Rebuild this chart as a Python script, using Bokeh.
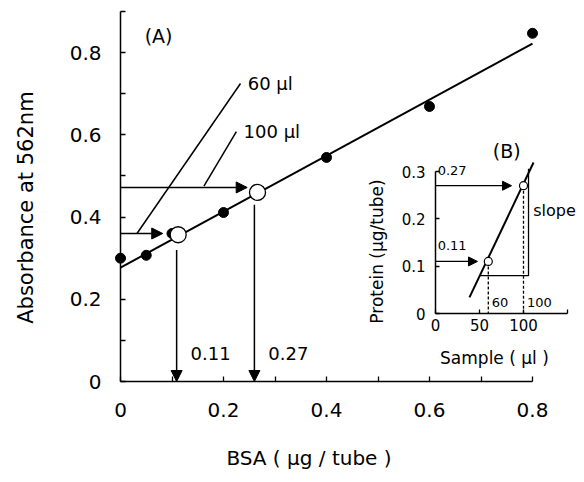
import math
from bokeh.plotting import figure
from bokeh.models import (Range1d, LinearAxis, FixedTicker, Arrow, NormalHead,
                          ColumnDataSource, Label)
from bokeh.core.properties import value
from bokeh.embed import file_html
from bokeh.resources import INLINE

FONT = "DejaVu Sans"

# ---------------- data : panel (A) standard curve ----------------
bsa_ug = [0.0, 0.05, 0.1, 0.2, 0.4, 0.6, 0.8]
absorbance = [0.300, 0.307, 0.360, 0.411, 0.545, 0.669, 0.847]
fit_bsa = [0.0, 0.8]
fit_abs = [0.277, 0.822]

volume_labels = ["60 µl", "100 µl"]
sample_abs = [0.360, 0.472]          # measured absorbance (horizontal arrows)
arrow_tip_bsa = [0.082, 0.246]
read_bsa = [0.112, 0.266]            # open circles on the standard line
read_abs = [0.357, 0.460]
drop_bsa = [0.109, 0.260]            # vertical arrows
drop_top = [0.32, 0.43]
protein_labels = ["0.11", "0.27"]
leader_x0 = [0.032, 0.162]
leader_y0 = [0.360, 0.475]
leader_x1 = [0.233, 0.225]
leader_y1 = [0.725, 0.608]

bsa_ticks = [0.0, 0.2, 0.4, 0.6, 0.8]
bsa_minor = [0.1, 0.3, 0.5, 0.7]
abs_ticks = [0.0, 0.2, 0.4, 0.6, 0.8]
abs_minor = [0.1, 0.3, 0.5, 0.7, 0.9]

# ---------------- data : panel (B) inset ----------------
sample_ul = [60, 100]
sample_protein = [0.11, 0.27]
inset_arrow_tip = [47.7, 86.4]
inset_fit_ul = [38.6, 111.4]
inset_fit_protein = [0.034, 0.319]
slope_ul = [51.0, 105.7, 105.7]
slope_protein = [0.080, 0.080, 0.306]
inset_x_ticks = [0, 50, 100]
inset_x_minor = [150]
inset_y_ticks = [0.0, 0.1, 0.2, 0.3]

# ---------------- layout (pixels inside the figure) ----------------
W, H = 576, 474
A_X0_PX, A_PX_PER_X = 120, 515.0       # position of x = 0 and px per unit
A_Y0_PX, A_PX_PER_Y = 381, 411.1       # position of y = 0 (from top) and px per unit
B_X0_PX, B_PX_PER_X = 435, 0.88
B_Y0_PX, B_PX_PER_Y = 313, 473.3

ax_start = -A_X0_PX / A_PX_PER_X
ay_end = A_Y0_PX / A_PX_PER_Y
bx_start = -B_X0_PX / B_PX_PER_X
by_end = B_Y0_PX / B_PX_PER_Y

p = figure(width=W, height=H, title=None, output_backend="svg", toolbar_location=None,
           x_range=Range1d(ax_start, ax_start + W / A_PX_PER_X),
           y_range=Range1d(ay_end - H / A_PX_PER_Y, ay_end),
           min_border_left=0, min_border_right=0, min_border_top=0, min_border_bottom=0)
p.extra_x_ranges = {"bx": Range1d(bx_start, bx_start + W / B_PX_PER_X)}
p.extra_y_ranges = {"by": Range1d(by_end - H / B_PX_PER_Y, by_end)}
p.grid.visible = False
p.outline_line_color = None
p.background_fill_color = "white"
p.border_fill_color = "white"

def style_axis(ax, lab_size, tick_len):
    ax.axis_line_width = 1.5
    ax.axis_line_color = "black"
    ax.major_tick_in = tick_len
    ax.major_tick_out = 0
    ax.minor_tick_in = tick_len
    ax.minor_tick_out = 0
    ax.major_tick_line_width = 1.3
    ax.minor_tick_line_width = 1.3
    ax.major_label_text_font = FONT
    ax.major_label_text_font_size = lab_size
    ax.major_label_text_color = "black"

xa = p.xaxis[0]
style_axis(xa, "20px", 5)
xa.fixed_location = 0
xa.bounds = (0, 0.8)
xa.ticker = FixedTicker(ticks=bsa_ticks, minor_ticks=bsa_minor)
xa.major_label_overrides = {0: "0"}
xa.major_label_standoff = 21

ya = p.yaxis[0]
style_axis(ya, "20px", 5)
ya.fixed_location = 0
ya.bounds = (0, 0.9)
ya.ticker = FixedTicker(ticks=abs_ticks, minor_ticks=abs_minor)
ya.major_label_overrides = {0: "0"}
ya.major_label_standoff = 19

# inset axes
iy = LinearAxis(x_range_name="bx", y_range_name="by", fixed_location=0, bounds=(0, 0.3),
                ticker=FixedTicker(ticks=inset_y_ticks, minor_ticks=[]))
style_axis(iy, "15px", 4)
iy.major_label_standoff = 10
iy.major_label_overrides = {0: "0"}
p.add_layout(iy, "left")
ix = LinearAxis(x_range_name="bx", y_range_name="by", fixed_location=0, bounds=(0, 150),
                ticker=FixedTicker(ticks=inset_x_ticks, minor_ticks=inset_x_minor))
style_axis(ix, "15px", 4)
ix.major_label_standoff = 5
p.add_layout(ix, "below")

# axis titles
p.add_layout(Label(x=-0.184, y=0.423, text="Absorbance at 562nm", angle=math.pi / 2,
                   text_font=FONT, text_font_size="21px", text_baseline="middle",
                   text_align="center", text_color="black"))
p.add_layout(Label(x=0.366, y=-0.185, text="BSA ( µg / tube )",
                   text_font=FONT, text_font_size="20px", text_baseline="middle",
                   text_align="center", text_color="black"))

# ---------------- panel (A) marks ----------------
p.line(fit_bsa, fit_abs, line_color="black", line_width=2)
p.scatter(bsa_ug, absorbance, marker="circle", size=10, fill_color="black", line_color="black")
p.segment(x0=leader_x0, y0=leader_y0, x1=leader_x1, y1=leader_y1, line_color="black", line_width=1.5)
p.scatter(read_bsa, read_abs, marker="circle", size=16, fill_color="white",
          line_color="black", line_width=1.3)

head_a = dict(size=11, fill_color="black", line_color="black", line_width=1)
src_h = ColumnDataSource(dict(x0=[0.0] * len(sample_abs), x1=arrow_tip_bsa, y=sample_abs))
p.add_layout(Arrow(end=NormalHead(**head_a), x_start="x0", y_start="y", x_end="x1", y_end="y",
                   source=src_h, line_width=1.5, line_color="black"))
src_v = ColumnDataSource(dict(x=drop_bsa, y0=drop_top, y1=[0.0] * len(drop_bsa)))
p.add_layout(Arrow(end=NormalHead(**head_a), x_start="x", y_start="y0", x_end="x", y_end="y1",
                   source=src_v, line_width=1.5, line_color="black"))

p.text(x=[x + 0.014 for x in leader_x1], y=leader_y1, text=volume_labels,
       text_font=value(FONT), text_font_size="18px", text_baseline="middle", text_align="left",
       text_color="black")
p.text(x=[x + 0.027 for x in drop_bsa], y=[0.068, 0.068], text=protein_labels,
       text_font=value(FONT), text_font_size="18px", text_baseline="middle", text_align="left",
       text_color="black")
p.add_layout(Label(x=0.047, y=0.84, text="(A)", text_font=FONT, text_font_size="19px",
                   text_baseline="middle", text_align="left", text_color="black"))

# ---------------- panel (B) marks ----------------
p.line(inset_fit_ul, inset_fit_protein, line_color="black", line_width=2,
       x_range_name="bx", y_range_name="by")
p.line(slope_ul, slope_protein, line_color="black", line_width=1.3,
       x_range_name="bx", y_range_name="by")
p.segment(x0=sample_ul, y0=sample_protein, x1=sample_ul, y1=[0, 0], line_color="black",
          line_width=1.3, line_dash="3 2", x_range_name="bx", y_range_name="by")
p.scatter(sample_ul, sample_protein, marker="circle", size=8, fill_color="white",
          line_color="black", line_width=1.2, x_range_name="bx", y_range_name="by")
src_b = ColumnDataSource(dict(x0=[0, 0], x1=inset_arrow_tip, y=sample_protein))
p.add_layout(Arrow(end=NormalHead(size=9, fill_color="black", line_color="black", line_width=1),
                   x_start="x0", y_start="y", x_end="x1", y_end="y", source=src_b,
                   line_width=1.3, line_color="black", x_range_name="bx", y_range_name="by"))
p.text(x=[2.5, 2.5], y=[v + 0.033 for v in sample_protein], text=protein_labels,
       text_font=value(FONT), text_font_size="13px", text_baseline="middle", text_align="left",
       text_color="black", x_range_name="bx", y_range_name="by")
p.text(x=[v + 4 for v in sample_ul], y=[0.023, 0.023], text=[str(v) for v in sample_ul],
       text_font=value(FONT), text_font_size="13px", text_baseline="middle", text_align="left",
       text_color="black", x_range_name="bx", y_range_name="by")
p.add_layout(Label(x=111, y=0.218, text="slope", x_range_name="bx", y_range_name="by",
                   text_font=FONT, text_font_size="16px", text_baseline="middle",
                   text_align="left", text_color="black"))
p.add_layout(Label(x=81, y=0.344, text="(B)", x_range_name="bx", y_range_name="by",
                   text_font=FONT, text_font_size="19px", text_baseline="middle",
                   text_align="center", text_color="black"))
p.add_layout(Label(x=67, y=-0.093, text="Sample ( µl )", x_range_name="bx", y_range_name="by",
                   text_font=FONT, text_font_size="17px", text_baseline="middle",
                   text_align="center", text_color="black"))
p.add_layout(Label(x=-67, y=0.131, text="Protein (µg/tube)", angle=math.pi / 2,
                   x_range_name="bx", y_range_name="by",
                   text_font=FONT, text_font_size="17px", text_baseline="middle",
                   text_align="center", text_color="black"))

open("out.html", "w").write(file_html(p, INLINE))
